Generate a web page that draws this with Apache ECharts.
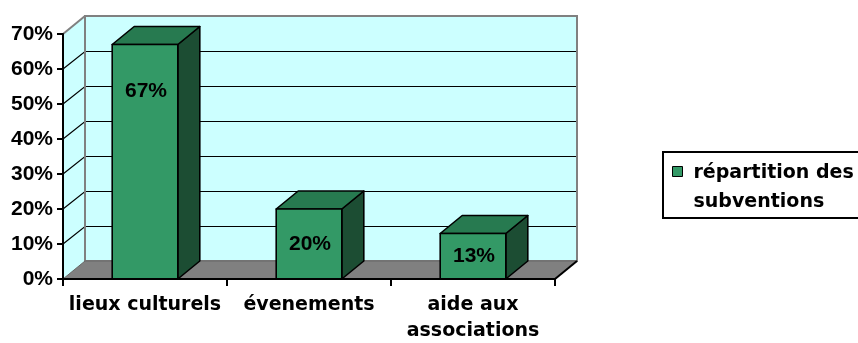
<!DOCTYPE html>
<html><head><meta charset="utf-8">
<script src="https://cdn.jsdelivr.net/npm/echarts@6/dist/echarts.min.js"></script>
<style>html,body{margin:0;padding:0;background:#fff}#c{width:858px;height:343px}</style>
</head><body><div id="c"></div>
<script>
// ---- data ----
const categories = ['lieux culturels', 'évenements', 'aide aux\nassociations'];
const seriesName = 'répartition des subventions';
const values = [0.67, 0.20, 0.13];
const valueLabels = ['67%', '20%', '13%'];
const yTicks = [0, 0.1, 0.2, 0.3, 0.4, 0.5, 0.6, 0.7];
const yTickLabels = ['0%', '10%', '20%', '30%', '40%', '50%', '60%', '70%'];

// ---- style constants ----
const DX = 22, DY = -18;
const WALL = '#CCFFFF', FLOOR = '#808080', EDGE = '#808080';
const FRONT = '#339966', TOP = '#277a50', SIDE = '#1c4d33';
const NUM_FONT = '"Liberation Sans", Arial, sans-serif';
const TXT_FONT = '"DejaVu Sans", sans-serif';

const chart = echarts.init(document.getElementById('c'), null, {renderer: 'canvas'});

function crisp(y) { return Math.round(y) + 0.5; }

function renderWalls(params, api) {
  const bw = api.size([1, 0])[0];
  const c0 = api.coord([0, yTicks[0]]);
  const left = c0[0] - bw / 2;
  const right = left + bw * categories.length;
  const yb = c0[1];
  const yt = api.coord([0, yTicks[yTicks.length - 1]])[1];
  const ch = [];
  ch.push({type: 'polygon', shape: {points: [[left, yb], [left, yt], [left + DX, yt + DY], [left + DX, yb + DY]]}, style: {fill: WALL}});
  ch.push({type: 'rect', shape: {x: left + DX, y: yt + DY, width: right - left, height: yb - yt}, style: {fill: WALL}});
  yTicks.slice(1, -1).forEach(v => {
    const y = api.coord([0, v])[1];
    const yy = crisp(y + DY);
    ch.push({type: 'polyline', shape: {points: [[left, y], [left + DX, yy], [right + DX, yy]]}, style: {stroke: '#000', lineWidth: 1.2, fill: null}});
  });
  ch.push({type: 'rect', shape: {x: left + DX, y: yt + DY, width: right - left, height: yb - yt}, style: {fill: null, stroke: EDGE, lineWidth: 2}});
  ch.push({type: 'line', shape: {x1: left, y1: yt, x2: left + DX, y2: yt + DY}, style: {stroke: EDGE, lineWidth: 2}});
  ch.push({type: 'polygon', shape: {points: [[left, yb], [right, yb], [right + DX, yb + DY], [left + DX, yb + DY]]}, style: {fill: FLOOR, stroke: '#666', lineWidth: 1}});
  ch.push({type: 'line', shape: {x1: right, y1: yb, x2: right + DX, y2: yb + DY}, style: {stroke: '#000', lineWidth: 2}});
  return {type: 'group', children: ch};
}

function renderBar(params, api) {
  const idx = api.value(0);
  const v = api.value(1);
  const base = api.coord([idx, 0]);
  const top = api.coord([idx, v]);
  const w = api.size([1, 0])[0] * 0.4;
  const x0 = base[0] - w / 2, x1 = base[0] + w / 2, yb = base[1], yt = top[1];
  const st = {stroke: '#000', lineWidth: 1.6, lineJoin: 'round'};
  return {type: 'group', children: [
    {type: 'polygon', shape: {points: [[x1, yt], [x1 + DX, yt + DY], [x1 + DX, yb + DY], [x1, yb]]}, style: Object.assign({fill: SIDE}, st)},
    {type: 'polygon', shape: {points: [[x0, yt], [x0 + DX, yt + DY], [x1 + DX, yt + DY], [x1, yt]]}, style: Object.assign({fill: TOP}, st)},
    {type: 'rect', shape: {x: x0, y: yt, width: w, height: yb - yt}, style: Object.assign({fill: FRONT}, st)},
    {type: 'text', style: {text: valueLabels[idx], x: base[0] + 1, y: yt + Math.min((yb - yt) / 2, 47),
      align: 'center', verticalAlign: 'middle', font: 'bold 21px ' + NUM_FONT, fill: '#000'}}
  ]};
}

chart.setOption({
  animation: false,
  backgroundColor: '#fff',
  grid: {left: 63, right: 303, top: 34, bottom: 64, containLabel: false, outerBoundsMode: 'none'},
  legend: {
    data: [{name: seriesName, icon: 'path://M0,0 M0,58 M0,8 L10,8 L10,18 L0,18 Z'}],
    left: 663, top: 152, orient: 'vertical', selectedMode: false,
    itemWidth: 10, itemHeight: 58,
    padding: [6, 28, 1, 9],
    borderColor: '#000', borderWidth: 2,
    itemStyle: {borderColor: '#000', borderWidth: 1},
    textStyle: {fontFamily: TXT_FONT, fontWeight: 'bold', fontSize: 19, lineHeight: 29, color: '#000', padding: [0, 0, 0, 6]},
    formatter: n => n.replace(/ (\S+)$/, '\n$1')
  },
  xAxis: {
    type: 'category', data: categories, z: 10,
    axisLine: {show: true, lineStyle: {color: '#000', width: 2}},
    axisTick: {show: true, alignWithLabel: false, length: 7, lineStyle: {color: '#000', width: 2}},
    axisLabel: {interval: 0, margin: 13, lineHeight: 26, color: '#000', fontFamily: TXT_FONT, fontWeight: 'bold', fontSize: 19},
    splitLine: {show: false}
  },
  yAxis: {
    type: 'value', min: 0, max: 0.7, interval: 0.1, z: 10,
    axisLine: {show: true, lineStyle: {color: '#000', width: 2}},
    axisTick: {show: true, length: 6, lineStyle: {color: '#000', width: 2}},
    axisLabel: {margin: 10, color: '#000', fontFamily: NUM_FONT, fontWeight: 'bold', fontSize: 21,
      formatter: v => yTickLabels[Math.round(v * 10)]},
    splitLine: {show: false}
  },
  series: [
    {type: 'custom', name: 'walls', z: 1, silent: true, renderItem: renderWalls, data: [[0, 0]]},
    {type: 'custom', name: seriesName, z: 2, itemStyle: {color: FRONT}, renderItem: renderBar,
      data: values.map((v, i) => [i, v])}
  ]
});
</script></body></html>
